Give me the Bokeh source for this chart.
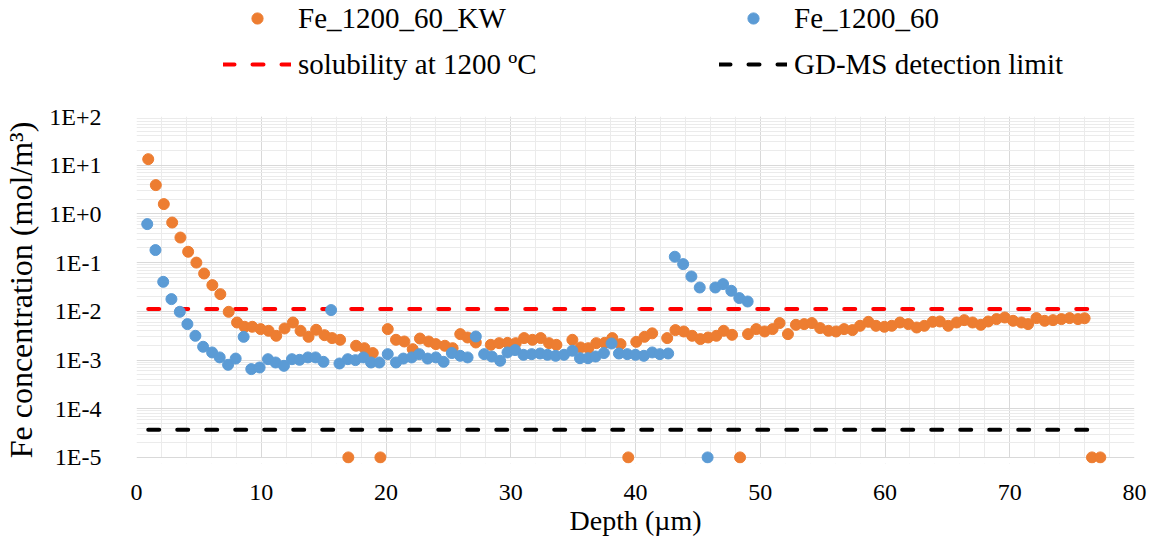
from bokeh.plotting import figure
from bokeh.layouts import column
from bokeh.models import (FixedTicker, CustomJSTickFormatter, Legend, LegendItem,
                          Range1d, BoxAnnotation)
from bokeh.embed import file_html
from bokeh.resources import INLINE

# ---------------- data ----------------
kw_depth = [0.94, 1.55, 2.19, 2.86, 3.52, 4.14, 4.80, 5.42, 6.08, 6.72, 7.39, 8.06, 8.67, 9.28,
            9.95, 10.59, 11.20, 11.87, 12.54, 13.15, 13.79, 14.40, 15.07, 15.68, 16.32, 16.98,
            17.60, 18.27, 18.94, 19.55, 20.14, 20.80, 21.47, 22.14, 22.72, 23.42, 24.00, 24.72,
            25.34, 25.95, 26.54, 27.20, 28.40, 29.07, 29.74, 30.40, 31.07, 31.74, 32.40, 33.07,
            33.66, 34.94, 35.60, 36.22, 36.86, 37.52, 38.14, 38.80, 39.42, 40.06, 40.72, 41.34,
            42.54, 43.20, 43.87, 44.54, 45.20, 45.82, 46.48, 47.07, 47.74, 48.38, 49.02, 49.68,
            50.35, 50.99, 51.55, 52.22, 52.86, 53.52, 54.14, 54.80, 55.47, 56.08, 56.72, 57.39,
            58.00, 58.67, 59.28, 59.95, 60.54, 61.20, 61.87, 62.54, 63.15, 63.82, 64.40, 65.07,
            65.74, 66.35, 67.02, 67.68, 68.27, 68.94, 69.60, 70.27, 70.94, 71.47, 72.14, 72.80,
            73.47, 74.14, 74.80, 75.47, 76.00, 76.59, 77.26]
kw_conc = [13.3, 3.9, 1.59, 0.665, 0.327, 0.167, 0.100, 0.0597, 0.0345, 0.0225, 0.00977, 0.00589,
           0.00481, 0.00481, 0.00431, 0.00398, 0.00314, 0.00444, 0.00589, 0.00398, 0.00299,
           0.00417, 0.00324, 0.00282, 0.00260, 1e-5, 0.00196, 0.00175, 0.00139, 1e-5, 0.00431,
           0.00260, 0.00240, 0.00167, 0.00276, 0.00240, 0.00212, 0.00196, 0.00175, 0.00340,
           0.00290, 0.00229, 0.00205, 0.00222, 0.00225, 0.00222, 0.00282, 0.00260, 0.00282,
           0.00222, 0.00205, 0.00260, 0.00181, 0.00175, 0.00222, 0.00225, 0.00282, 0.00212,
           1e-5, 0.00236, 0.00299, 0.00353, 0.00282, 0.00411, 0.00385, 0.00314, 0.00269,
           0.00290, 0.00314, 0.00398, 0.00329, 1e-5, 0.00340, 0.00431, 0.00385, 0.00431,
           0.00573, 0.00340, 0.00528, 0.00546, 0.00573, 0.00452, 0.00398, 0.00385, 0.00431,
           0.00411, 0.00504, 0.00608, 0.00504, 0.00481, 0.00504, 0.00589, 0.00546, 0.00465,
           0.00504, 0.00608, 0.00618, 0.00504, 0.00589, 0.00659, 0.00589, 0.00528, 0.00618,
           0.00692, 0.00746, 0.00638, 0.00589, 0.00546, 0.00725, 0.00638, 0.00659, 0.00692,
           0.00725, 0.00692, 0.00720, 1e-5, 1e-5]

ref_depth = [0.86, 1.52, 2.14, 2.80, 3.47, 4.08, 4.72, 5.34, 6.06, 6.67, 7.34, 7.95, 8.59, 9.20,
             9.87, 10.54, 11.15, 11.82, 12.46, 13.07, 13.74, 14.35, 14.99, 15.60, 16.27, 16.94,
             17.55, 18.19, 18.80, 19.47, 20.14, 20.80, 21.39, 22.06, 22.67, 23.34, 24.00, 24.62,
             25.28, 25.95, 26.54, 27.20, 27.87, 28.48, 29.15, 29.74, 30.35, 31.02, 31.68, 32.35,
             32.94, 33.60, 34.27, 34.94, 35.55, 36.19, 36.80, 37.47, 38.08, 38.67, 39.34, 40.00,
             40.67, 41.34, 41.95, 42.62, 43.15, 43.82, 44.48, 45.15, 45.78, 46.40, 47.02, 47.68,
             48.32, 48.99]
ref_conc = [0.618, 0.181, 0.0403, 0.0178, 0.00977, 0.00546, 0.00314, 0.00187, 0.00143, 0.00113,
            0.000797, 0.00107, 0.00299, 0.000650, 0.000702, 0.00104, 0.000889, 0.000760, 0.00104,
            0.00101, 0.00113, 0.00113, 0.000918, 0.0106, 0.000848, 0.00104, 0.000995, 0.00113,
            0.000889, 0.000889, 0.00132, 0.000889, 0.00107, 0.00113, 0.00132, 0.00107, 0.00113,
            0.000918, 0.00139, 0.00122, 0.00113, 0.00304, 0.00132, 0.00118, 0.000964, 0.00143,
            0.00160, 0.00128, 0.00132, 0.00136, 0.00128, 0.00122, 0.00128, 0.00155, 0.00109,
            0.00109, 0.00118, 0.00139, 0.00218, 0.00136, 0.00132, 0.00128, 0.00122, 0.00143,
            0.00132, 0.00136, 0.132, 0.0931, 0.0519, 0.0308, 1e-5, 0.0308, 0.0362, 0.0264,
            0.0187, 0.0159]

line_depth = [0.94, 76.45]
solubility = [0.0111, 0.0111]
detection_limit = [3.7e-5, 3.7e-5]

x_ticks = [0, 10, 20, 30, 40, 50, 60, 70, 80]
y_ticks = [1e-5, 1e-4, 1e-3, 1e-2, 1e-1, 1e0, 1e1, 1e2]
y_tick_labels = ["1E-5", "1E-4", "1E-3", "1E-2", "1E-1", "1E+0", "1E+1", "1E+2"]

names = ["Fe_1200_60_KW", "Fe_1200_60", "solubility at 1200 \u00baC", "GD-MS detection limit"]

# ---------------- styles ----------------
FONT = "'Liberation Serif', 'Times New Roman', serif"
ORANGE = "#ED7D31"
BLUE = "#5B9BD5"
RED = "#FF0000"
MARK = dict(size=11)
DASH = dict(line_width=4, line_dash="11 18", line_cap="round")

# ---------------- main chart ----------------
p = figure(width=1150, height=456, output_backend="svg", toolbar_location=None,
           y_axis_type="log", x_range=Range1d(0, 80), y_range=Range1d(10 ** -5.125, 1e2),
           min_border_left=133, min_border_right=16, min_border_top=20, min_border_bottom=89)
p.outline_line_color = None
p.background_fill_color = "white"
p.border_fill_color = "white"

p.xaxis.ticker = FixedTicker(ticks=x_ticks, minor_ticks=list(range(0, 81, 2)))
p.yaxis.ticker = FixedTicker(ticks=y_ticks,
                             minor_ticks=[m * 10.0 ** e for e in range(-5, 2) for m in range(2, 10)])
p.yaxis.formatter = CustomJSTickFormatter(args=dict(tvals=y_ticks, tlabels=y_tick_labels), code="""
for (let i = 0; i < tvals.length; i++) {
  if (Math.abs(Math.log10(tick) - Math.log10(tvals[i])) < 1e-6) return tlabels[i];
}
return "";
""")

for ax in (p.xaxis, p.yaxis):
    ax.axis_line_color = None
    ax.major_tick_line_color = None
    ax.minor_tick_line_color = None
    ax.major_tick_out = 0
    ax.major_tick_in = 0
    ax.minor_tick_out = 0
    ax.minor_tick_in = 0
    ax.major_label_text_font = FONT
    ax.major_label_text_font_size = "24px"
    ax.major_label_text_color = "black"
    ax.axis_label_text_font = FONT
    ax.axis_label_text_font_style = "normal"
    ax.axis_label_text_color = "black"

p.xaxis.axis_label = "Depth (\u00b5m)"
p.yaxis.axis_label = "Fe concentration (mol/m\u00b3)"
p.xaxis.axis_label_text_font_size = "28px"
p.yaxis.axis_label_text_font_size = "32px"
p.xaxis.major_label_standoff = 21
p.xaxis.axis_label_standoff = 2
p.yaxis.major_label_standoff = 35
p.yaxis.axis_label_standoff = 7

for g in (p.xgrid, p.ygrid):
    g.grid_line_color = "#d9d9d9"
    g.grid_line_width = 1
    g.minor_grid_line_color = "#ebebeb"
    g.minor_grid_line_width = 1

# white strip below the 1E-5 line (so grid lines stop at the axis like the original)
p.add_layout(BoxAnnotation(bottom=10 ** -5.125, top=10 ** -5.012, fill_color="white",
                           fill_alpha=1, line_color=None, level="underlay"))

p.line(line_depth, solubility, line_color=RED, **DASH)
p.line(line_depth, detection_limit, line_color="black", **DASH)
p.scatter(kw_depth, kw_conc, fill_color=ORANGE, line_color=ORANGE, **MARK)
p.scatter(ref_depth, ref_conc, fill_color=BLUE, line_color=BLUE, **MARK)

# ---------------- legend strip (above the chart, frames aligned by the column) ----------------
lg = figure(width=1150, height=96, output_backend="svg", toolbar_location=None,
            x_axis_location=None, y_axis_location=None, min_border=0,
            x_range=Range1d(0, 1), y_range=Range1d(0, 1))
lg.outline_line_color = None
lg.xgrid.visible = False
lg.ygrid.visible = False
# legend-only proxies: single points kept outside the visible range
off = [-5]
l_kw = lg.scatter(off, off, fill_color=ORANGE, line_color=ORANGE, **MARK)
l_ref = lg.scatter(off, off, fill_color=BLUE, line_color=BLUE, **MARK)
l_sol = lg.line(off + off, off + off, line_color=RED, **DASH)
l_det = lg.line(off + off, off + off, line_color="black", **DASH)

legend = Legend(items=[LegendItem(label=names[0], renderers=[l_kw]),
                       LegendItem(label=names[1], renderers=[l_ref]),
                       LegendItem(label=names[2], renderers=[l_sol]),
                       LegendItem(label=names[3], renderers=[l_det])],
                orientation="horizontal", ncols=2,
                location=(87, 15.5), padding=0, margin=0, spacing=13,
                glyph_width=68, glyph_height=28, label_height=30, label_width=408,
                label_standoff=7, label_text_font=FONT, label_text_font_size="29px",
                label_text_color="black", border_line_color=None, background_fill_alpha=0)
lg.add_layout(legend, "center")

page = column(lg, p, spacing=0)
open("out.html", "w").write(file_html(page, INLINE))
